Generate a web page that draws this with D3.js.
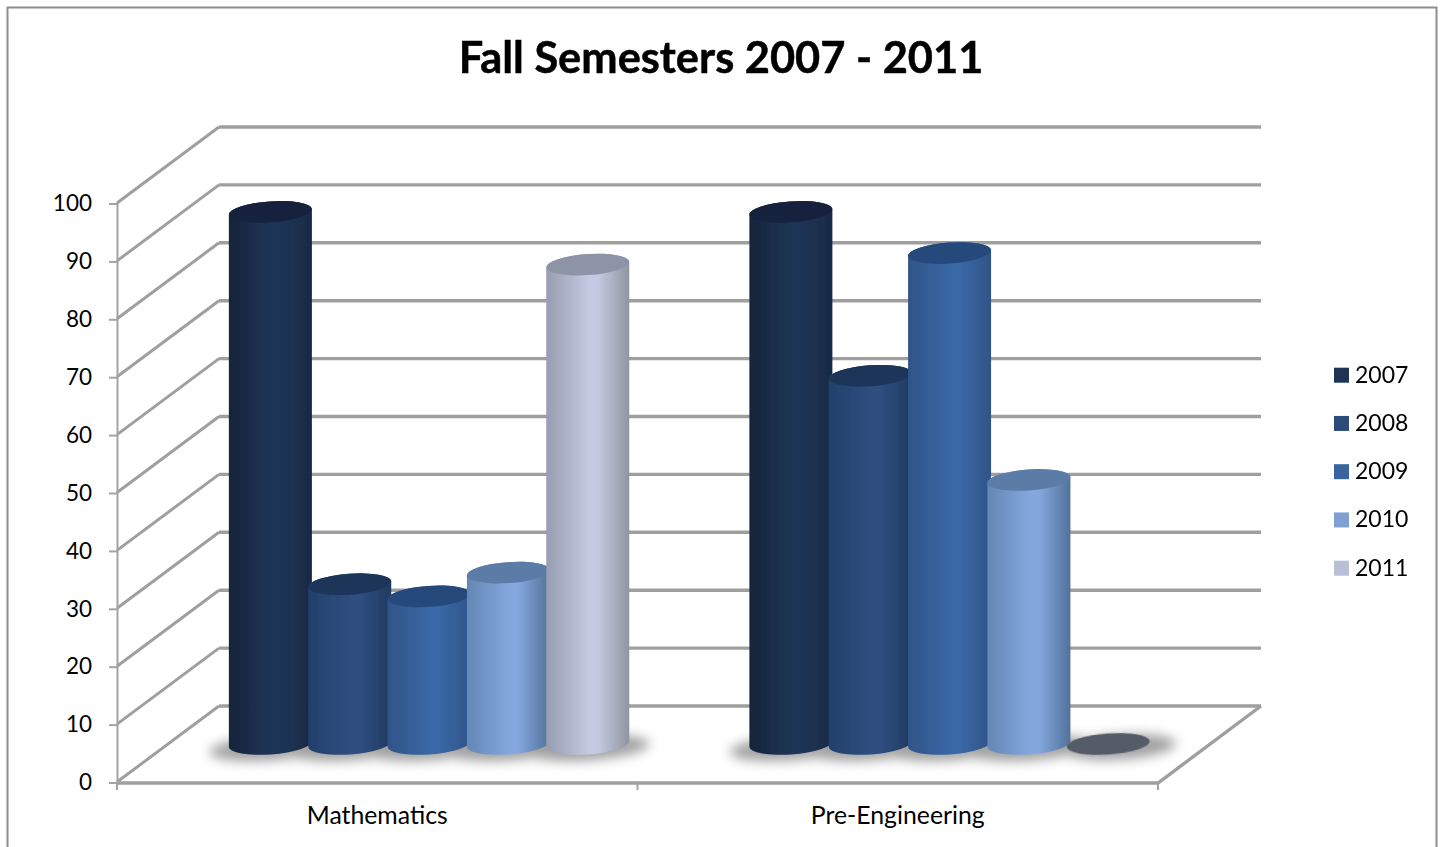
<!DOCTYPE html>
<html>
<head>
<meta charset="utf-8">
<script src="https://cdnjs.cloudflare.com/ajax/libs/d3/7.8.5/d3.min.js"></script>
<style>
html,body{margin:0;padding:0;background:#fff;overflow:hidden}
svg{display:block}
text{font-family:Lato,"Open Sans",sans-serif;fill:#000}
</style>
</head>
<body>
<script>
const categories = ["Mathematics", "Pre-Engineering"];
const years = ["2007", "2008", "2009", "2010", "2011"];
const mathematics = [91.9, 27.6, 25.5, 29.6, 82.8];
const preEngineering = [91.9, 63.6, 84.8, 45.6, 0];
const yTicks = [0, 10, 20, 30, 40, 50, 60, 70, 80, 90, 100];
const swatchColors = ["#1f3455", "#2c4b79", "#3a649f", "#7fa0d1", "#b8c0d6"];
const topColors = ["#14243d", "#1b3558", "#26497c", "#5c7ca8", "#8d94a6"];
const edgeColors = [["#15243b", "#1f3556", "#182a45"], ["#22406a", "#2e4f80", "#203a60"], ["#2f5588", "#3a68a6", "#2f5488"], ["#6487b5", "#84a7de", "#527299"], ["#989db0", "#c3cbe2", "#90959f"]];
const zeroColor = "#555b69";
const title = "Fall Semesters 2007 - 2011";

const W = 1442, H = 847;
const left = 117, right = 1158, bottom = 782, top100 = 203;
const depthX = 102, depthY = -76;
const barW = 83, ry = 10.5, tilt = 4;

const svg = d3.select("body").append("svg").attr("width", W).attr("height", H);
const defs = svg.append("defs");
defs.append("filter").attr("id", "soft").attr("x", "-10%").attr("y", "-10%").attr("width", "120%").attr("height", "120%")
  .append("feGaussianBlur").attr("stdDeviation", 0.7);
defs.append("filter").attr("id", "shadow").attr("x", "-30%").attr("y", "-100%").attr("width", "160%").attr("height", "300%")
  .append("feGaussianBlur").attr("stdDeviation", 6);
years.forEach((y, i) => {
  const g = defs.append("linearGradient").attr("id", "g" + i);
  [[0, 0], [0.52, 1], [0.62, 1], [1, 2]].forEach(([o, c]) =>
    g.append("stop").attr("offset", o).attr("stop-color", edgeColors[i][c]));
});

svg.append("rect").attr("x", 7.5).attr("y", 7.5).attr("width", 1429).attr("height", 860)
  .attr("fill", "#fff").attr("stroke", "#8e8e8e").attr("stroke-width", 2);

const x0 = d3.scaleBand().domain(categories).range([left, right]);
const x1 = d3.scaleBand().domain(years).range([0, x0.bandwidth()]).paddingOuter(0.78).paddingInner(0);
const y = d3.scaleLinear().domain([0, 100]).range([bottom, top100]);

// walls and floor
const walls = svg.append("g").attr("fill", "none").attr("stroke", "#9f9f9f").attr("filter", "url(#soft)");
yTicks.forEach(t => {
  walls.append("path").attr("stroke-width", 3.4)
    .attr("d", d3.line()([[left + depthX, y(t) + depthY], [right + depthX + 1, y(t) + depthY]]));
  walls.append("path").attr("stroke-width", 3)
    .attr("d", d3.line()([[left, y(t)], [left + depthX, y(t) + depthY]]));
});
walls.append("path").attr("stroke-width", 3.4)
  .attr("d", d3.line()([[left, bottom + 1], [right, bottom + 1], [right + depthX + 1, bottom + depthY]]));

// axes
const axisL = svg.append("g").attr("transform", `translate(${left},0.5)`)
  .call(d3.axisLeft(y).tickValues(yTicks).tickSize(8).tickPadding(17).tickFormat(d3.format("d")));
axisL.selectAll("path,line").attr("stroke", "#a3a3a3").attr("stroke-width", 2);
axisL.selectAll("text").attr("font-size", 22.5).attr("fill", "#000").style("font-family", "Lato");
const axisB = svg.append("g").attr("transform", `translate(0,${bottom + 1})`)
  .call(d3.axisBottom(x0).tickSize(0).tickPadding(24));
axisB.select("path").remove();
axisB.selectAll("text").attr("font-size", 24.8).style("font-family", "Lato");
axisB.selectAll("text").attr("dy", "0.68em");
[left, left + x0.bandwidth(), right].forEach(v =>
  axisB.append("line").attr("x1", v).attr("x2", v).attr("y1", 0).attr("y2", 7)
    .attr("stroke", "#a3a3a3").attr("stroke-width", 2));

// bars
const rad = tilt * Math.PI / 180;
const cosT = Math.cos(rad), sinT = Math.sin(rad);
const baseY = bottom + depthY / 2;
const seriesByCat = [mathematics, preEngineering];
const rx = barW / 2 / cosT;

const shadows = svg.append("g").attr("filter", "url(#shadow)").attr("opacity", 0.65);
const bars = svg.append("g").attr("filter", "url(#soft)");
categories.forEach((cat, c) => {
  const bx = i => x0(cat) + x1(years[i]) + depthX / 2 + barW / 2 - 1;
  seriesByCat[c].forEach((v, i) => {
    shadows.append("ellipse").attr("cx", bx(i) + (v === 0 ? 12 : 0)).attr("cy", baseY + 4)
      .attr("rx", barW / 2 + (v === 0 ? 14 : 20)).attr("ry", ry + 2).attr("fill", "#6f6f6f")
      .attr("transform", `rotate(${-tilt} ${bx(i)} ${baseY})`);
  });
  seriesByCat[c].forEach((v, i) => {
    const cx = bx(i), topY = y(v) + depthY / 2;
    const ex = rx * cosT, ey = rx * sinT;
    if (v > 0) {
      bars.append("path").attr("fill", `url(#g${i})`)
        .attr("d", `M${cx - ex},${topY + ey} L${cx - ex},${baseY + ey} A${rx},${ry} ${-tilt} 0 0 ${cx + ex},${baseY - ey} L${cx + ex},${topY - ey} A${rx},${ry} ${-tilt} 0 0 ${cx - ex},${topY + ey} Z`);
    }
    bars.append("ellipse").attr("cx", cx).attr("cy", topY).attr("rx", rx).attr("ry", ry)
      .attr("fill", v > 0 ? topColors[i] : zeroColor)
      .attr("transform", `rotate(${-tilt} ${cx} ${topY})`);
  });
});

// title
svg.append("text").attr("x", 721).attr("y", 73).attr("text-anchor", "middle")
  .attr("font-size", 43.4).attr("font-weight", 700).attr("stroke", "#000").attr("stroke-width", 0.5).text(title);

// legend
const legY = d3.scalePoint().domain(years).range([375.2, 568.2]);
const leg = svg.append("g");
years.forEach((yr, i) => {
  leg.append("rect").attr("x", 1334).attr("y", legY(yr) - 7.5).attr("width", 15).attr("height", 15).attr("fill", swatchColors[i]);
  leg.append("text").attr("x", 1355).attr("y", legY(yr) + 7.5).attr("font-size", 23).text(yr);
});
</script>
</body>
</html>
